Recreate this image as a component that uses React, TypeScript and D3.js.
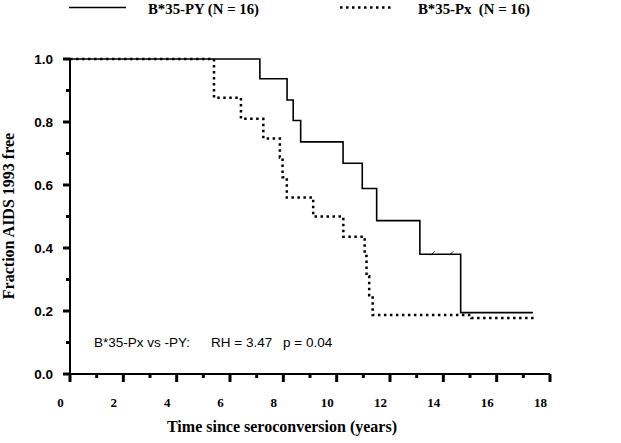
import * as d3 from 'd3';

// Kaplan-Meier steps (years, fraction AIDS-free)
const pyTimes = [0, 7.12, 8.14, 8.37, 8.65, 10.24, 10.96, 11.5, 13.12, 14.65];
const pySurv = [1, 0.9375, 0.87, 0.805, 0.737, 0.669, 0.589, 0.487, 0.38, 0.195];
const pyEnd = 17.36;
const pyCensored = [13.6, 14.3];

const pxTimes = [0, 5.4, 6.41, 7.25, 7.87, 7.97, 8.13, 9.12, 10.25, 11.05, 11.12, 11.22, 11.35, 15.05];
const pxSurv = [1, 0.877, 0.81, 0.748, 0.6875, 0.625, 0.56, 0.5, 0.436, 0.375, 0.31, 0.25, 0.187, 0.178];
const pxEnd = 17.5;

const xMajor = [0, 2, 4, 6, 8, 10, 12, 14, 16, 18];
const xMinor = [1, 3, 5, 7, 9, 11, 13, 15, 17];
const yMajor = [0, 0.2, 0.4, 0.6, 0.8, 1.0];
const yMinor = [0.1, 0.3, 0.5, 0.7, 0.9];

const statParts = ['B*35-Px vs -PY:', 'RH = 3.47', 'p = 0.04'];

const W = 621;
const H = 443;

export default function App() {
  const x = d3.scaleLinear().domain([0, 18]).range([70, 550]);
  const y = d3.scaleLinear().domain([0, 1]).range([374, 59]);

  const step = d3
    .line<[number, number]>()
    .x((d) => x(d[0]))
    .y((d) => y(d[1]))
    .curve(d3.curveStepAfter);

  const pyPts: [number, number][] = pyTimes.map((t, i) => [t, pySurv[i]]);
  pyPts.push([pyEnd, pySurv[pySurv.length - 1]]);
  const pxPts: [number, number][] = pxTimes.map((t, i) => [t, pxSurv[i]]);
  pxPts.push([pxEnd, pxSurv[pxSurv.length - 1]]);

  const serif = '"Liberation Serif", "Times New Roman", serif';
  const sans = '"Liberation Sans", Arial, sans-serif';
  const statX = [94, 211, 283];

  return (
    <svg
      width={W}
      height={H}
      style={{ position: 'absolute', left: 0, top: 0, background: '#fff' }}
    >
      {/* legend */}
      <line x1={69} x2={126} y1={7.5} y2={7.5} stroke="#000" strokeWidth={1.6} />
      <text x={148} y={14} fontFamily={serif} fontWeight="bold" fontSize={14.8}>
        B*35-PY (N = 16)
      </text>
      <line x1={340} x2={394} y1={7.5} y2={7.5} stroke="#000" strokeWidth={2.5} strokeDasharray="2.5,3.5" />
      <text x={418} y={14} fontFamily={serif} fontWeight="bold" fontSize={14.8} xmlSpace="preserve">
        {'B*35-Px  (N = 16)'}
      </text>

      {/* axes */}
      <line x1={x(0)} x2={x(0)} y1={y(1)} y2={y(0) + 1} stroke="#000" strokeWidth={2} />
      <line x1={x(0) - 1} x2={x(18)} y1={y(0)} y2={y(0)} stroke="#000" strokeWidth={2} />
      {xMajor.map((v) => (
        <line key={'xM' + v} x1={x(v)} x2={x(v)} y1={y(0)} y2={y(0) + 8} stroke="#000" strokeWidth={3} />
      ))}
      {xMinor.map((v) => (
        <line key={'xm' + v} x1={x(v)} x2={x(v)} y1={y(0)} y2={y(0) + 4} stroke="#000" strokeWidth={3} />
      ))}
      {yMajor.map((v) => (
        <line key={'yM' + v} x1={x(0) - 7} x2={x(0)} y1={y(v)} y2={y(v)} stroke="#000" strokeWidth={3} />
      ))}
      {yMinor.map((v) => (
        <line key={'ym' + v} x1={x(0) - 4} x2={x(0)} y1={y(v)} y2={y(v)} stroke="#000" strokeWidth={3} />
      ))}
      {xMajor.map((v) => (
        <text
          key={'xl' + v}
          x={x(v) - 9.5}
          y={407}
          textAnchor="middle"
          fontFamily={serif}
          fontWeight="bold"
          fontSize={13}
        >
          {v}
        </text>
      ))}
      {yMajor.map((v) => (
        <text
          key={'yl' + v}
          x={53}
          y={y(v)}
          dy="0.36em"
          textAnchor="end"
          fontFamily={sans}
          fontWeight="bold"
          fontSize={13.5}
        >
          {d3.format('.1f')(v)}
        </text>
      ))}
      <text x={282} y={432} textAnchor="middle" fontFamily={serif} fontWeight="bold" fontSize={16}>
        Time since seroconversion (years)
      </text>
      <text
        transform="translate(14,216) rotate(-90)"
        textAnchor="middle"
        fontFamily={serif}
        fontWeight="bold"
        fontSize={16}
      >
        Fraction AIDS 1993 free
      </text>

      {/* curves */}
      <path d={step(pxPts) ?? ''} fill="none" stroke="#000" strokeWidth={2.5} strokeDasharray="2.5,3.5" />
      <path d={step(pyPts) ?? ''} fill="none" stroke="#000" strokeWidth={1.6} />
      {pyCensored.map((t) => (
        <line
          key={'c' + t}
          x1={x(t) - 2}
          x2={x(t) + 2}
          y1={y(0.38) + 1}
          y2={y(0.38) - 3}
          stroke="#000"
          strokeWidth={0.8}
        />
      ))}

      {/* annotation */}
      {statParts.map((s, i) => (
        <text key={s} x={statX[i]} y={346.5} fontFamily={sans} fontSize={13.5}>
          {s}
        </text>
      ))}
    </svg>
  );
}
